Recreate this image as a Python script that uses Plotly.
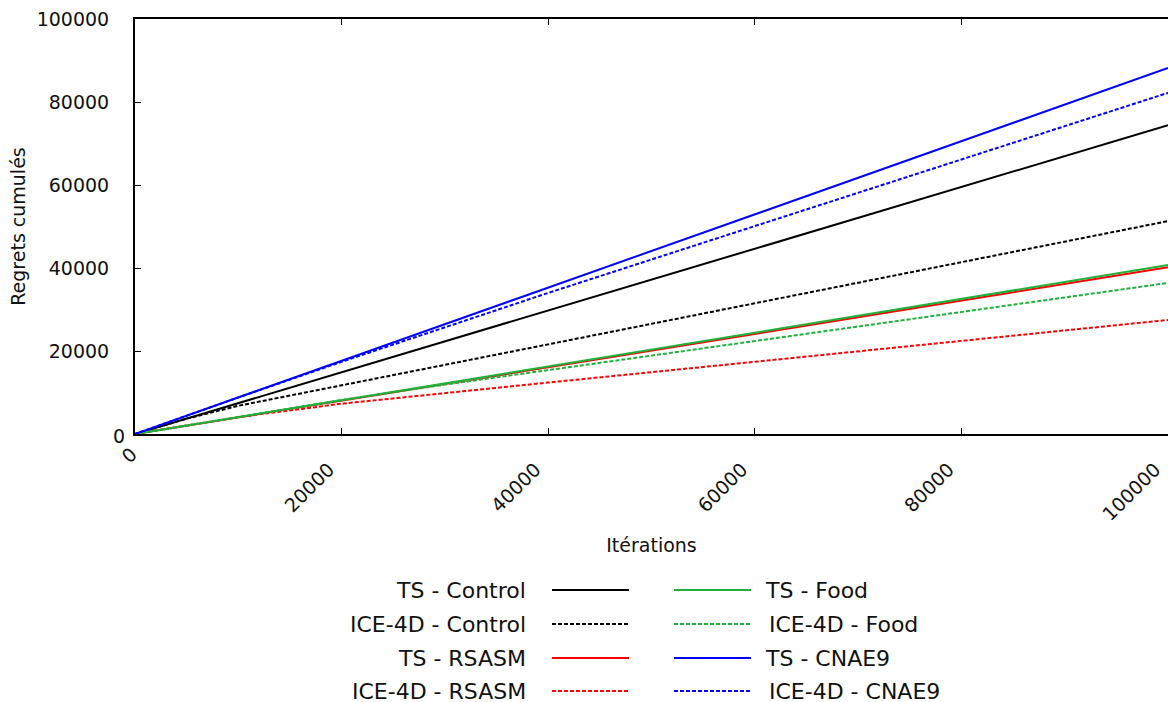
import plotly.graph_objects as go

iters = [0, 5000, 10000, 20000, 30000, 40000, 60000, 80000, 100000]

ts_control = [0, 3720, 7440, 14880, 22320, 29760, 44640, 59520, 74400]
ice_control = [0, 3700, 6800, 11700, 16650, 21600, 31500, 41400, 51300]
ts_rsasm = [0, 2010, 4020, 8040, 12060, 16080, 24120, 32160, 40200]
ice_rsasm = [0, 2050, 4070, 7300, 9900, 12400, 17400, 22400, 27470]
ts_food = [0, 2035, 4070, 8140, 12210, 16280, 24420, 32560, 40700]
ice_food = [0, 2050, 4100, 8200, 11900, 15400, 22400, 29400, 36400]
ts_cnae9 = [0, 4410, 8820, 17640, 26460, 35280, 52920, 70560, 88200]
ice_cnae9 = [0, 4400, 8800, 17400, 25700, 34000, 50100, 66200, 82200]

series = [
    ("TS - Control", ts_control, "#000000", "solid"),
    ("ICE-4D - Control", ice_control, "#000000", "4px,2px"),
    ("TS - RSASM", ts_rsasm, "#ff0000", "solid"),
    ("ICE-4D - RSASM", ice_rsasm, "#ff0000", "4px,2px"),
    ("TS - Food", ts_food, "#1db33b", "solid"),
    ("ICE-4D - Food", ice_food, "#1db33b", "4px,2px"),
    ("TS - CNAE9", ts_cnae9, "#0000ff", "solid"),
    ("ICE-4D - CNAE9", ice_cnae9, "#0000ff", "4px,2px"),
]

ticks = [0, 20000, 40000, 60000, 80000, 100000]
tick_text = ["0", "20000", "40000", "60000", "80000", "100000"]

W, H = 1168, 702
L, R, T, B = 135, 0, 19, 268
PH = H - T - B
PW = W - L - R
FONT = "DejaVu Sans"

fig = go.Figure()
for name, ys, col, dash in series:
    fig.add_trace(go.Scatter(x=iters, y=ys, mode="lines", name=name,
                             line=dict(color=col, width=2, dash=dash),
                             showlegend=False))


# window pixel -> paper coords
def px_x(px):
    return (px - L) / PW


def px_y(py):
    return (H - B - py) / PH


# hand made two-column legend
rows = [590, 624, 658, 691]
anns = []
shapes = []
for i, (name, ys, col, dash) in enumerate(series):
    r = rows[i % 4]
    if i < 4:
        anns.append(dict(x=px_x(528), y=px_y(r), xref="paper", yref="paper",
                         text=name, showarrow=False, xanchor="right",
                         yanchor="middle", font=dict(size=22, color="#111")))
        shapes.append(dict(type="line", xref="paper", yref="paper",
                           x0=px_x(552), x1=px_x(629), y0=px_y(r), y1=px_y(r),
                           line=dict(color=col, width=2, dash=dash)))
    else:
        tx = 763 if dash == "solid" else 767
        anns.append(dict(x=px_x(tx), y=px_y(r), xref="paper", yref="paper",
                         text=name, showarrow=False, xanchor="left",
                         yanchor="middle", font=dict(size=22, color="#111")))
        shapes.append(dict(type="line", xref="paper", yref="paper",
                           x0=px_x(674), x1=px_x(751), y0=px_y(r), y1=px_y(r),
                           line=dict(color=col, width=2, dash=dash)))

# the two "0" labels sit closer to the corner than the other tick labels
anns.append(dict(x=px_x(119), y=px_y(436), xref="paper", yref="paper",
                 xanchor="center", yanchor="middle",
                 text=tick_text[0], showarrow=False, font=dict(size=19, color="#111")))
anns.append(dict(x=px_x(129), y=px_y(455), xref="paper", yref="paper",
                 xanchor="center", yanchor="middle",
                 text=tick_text[0], showarrow=False, textangle=-45,
                 font=dict(size=19, color="#111")))

fig.update_layout(
    width=W, height=H,
    margin=dict(l=L, r=R, t=T, b=B, autoexpand=False),
    plot_bgcolor="white", paper_bgcolor="white",
    font=dict(family=FONT, size=19, color="#111"),
    annotations=anns, shapes=shapes,
)
# trailing nbsp pushes the rotated labels down-left like the original
fig.update_xaxes(range=[0, 100000], tickvals=ticks,
                 ticktext=[""] + [t + "\u00a0\u00a0\u00a0" for t in tick_text[1:]],
                 tickangle=-45, ticks="inside", ticklen=6, tickcolor="black",
                 ticklabelstandoff=2, ticklabeloverflow="allow", automargin=False,
                 showline=True, linecolor="black", linewidth=2, mirror="ticks",
                 showgrid=False, zeroline=False,
                 title=dict(text="Itérations", standoff=15, font=dict(size=19)))
fig.update_yaxes(range=[0, 100000], tickvals=ticks,
                 ticktext=[""] + tick_text[1:],
                 ticks="inside", ticklen=6, tickcolor="black",
                 ticklabelstandoff=20, ticklabeloverflow="allow", automargin=False,
                 showline=True, linecolor="black", linewidth=2,
                 showgrid=False, zeroline=False,
                 title=dict(text="Regrets cumulés", standoff=6, font=dict(size=19)))

# drop the default body margin so the figure fills the window
fig.write_html("out.html", config={"displayModeBar": False},
               post_script="document.body.style.margin='0';"
                           "document.body.style.overflow='hidden';")
